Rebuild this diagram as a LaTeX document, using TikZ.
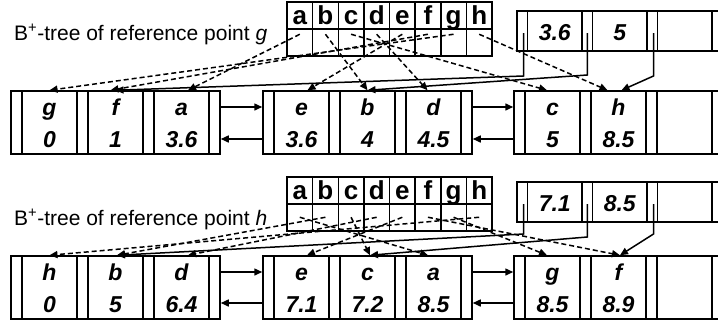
\documentclass[tikz,border=0pt]{standalone}
\usepackage{fontspec}
\setmainfont{Liberation Sans}
\usetikzlibrary{arrows.meta}
\tikzset{
  lw/.style={line width=1.5pt},
  keycell/.style={draw, lw, minimum width=55pt, minimum height=63pt, inner sep=0pt},
  leafnode/.style={draw, lw, minimum width=209pt, minimum height=63pt, inner sep=0pt},
  inode/.style={draw, lw, minimum width=205.5pt, minimum height=40pt, inner sep=0pt},
  icell/.style={draw, lw, minimum width=54.5pt, minimum height=40pt, inner sep=0pt},
  acell/.style={draw, lw, minimum width=25.625pt, minimum height=27pt, inner sep=0pt},
  hdrtext/.style={font=\fontsize{26}{26}\selectfont\bfseries, inner sep=0pt},
  leaftext/.style={font=\fontsize{23}{23}\selectfont\bfseries\itshape, inner sep=0pt},
  titletext/.style={font=\fontsize{21}{21}\selectfont, inner sep=0pt},
  ptr/.style={lw, -{Triangle[length=8pt,width=7pt]}},
  dptr/.style={ptr, dash pattern=on 5pt off 3pt},
}
% leaf: #1 name, #2 x, #3 y top, #4..#9 keys/values
\newcommand\leafrow[9]{%
  \node[leafnode] (#1) at (#2+104.5,#3+31.5) {};
  \node[keycell] (#1-1) at (#2+38.5,#3+31.5) {};
  \node[keycell] (#1-2) at (#2+104.5,#3+31.5) {};
  \node[keycell] (#1-3) at (#2+170.5,#3+31.5) {};
  \node[leaftext, anchor=base] (#1-1k) at (#2+38.5,#3+24) {#4};
  \node[leaftext, anchor=base] (#1-1v) at (#2+38.5,#3+56) {#5};
  \node[leaftext, anchor=base] (#1-2k) at (#2+104.5,#3+24) {#6};
  \node[leaftext, anchor=base] (#1-2v) at (#2+104.5,#3+56) {#7};
  \node[leaftext, anchor=base] (#1-3k) at (#2+170.5,#3+24) {#8};
  \node[leaftext, anchor=base] (#1-3v) at (#2+170.5,#3+56) {#9};
}
% internal node: #1 name, #2 x, #3 y top, #4 #5 keys
\newcommand\inodebox[5]{%
  \node[inode] (#1) at (#2+102.75,#3+20) {};
  \node[icell] (#1-c1) at (#2+37.75,#3+20) {};
  \node[icell] (#1-c2) at (#2+102.75,#3+20) {};
  \node[icell] (#1-c3) at (#2+167.75,#3+20) {};
  \node[leaftext, anchor=base] (#1-k1) at (#2+37.75,#3+29.5) {#4};
  \node[leaftext, anchor=base] (#1-k2) at (#2+102.75,#3+29.5) {#5};
  \coordinate (#1-p0) at (#2+6.5,#3+22);
  \coordinate (#1-p1) at (#2+70.25,#3+22);
  \coordinate (#1-p2) at (#2+136.5,#3+22);
}
% key array: #1 name, #2 y top
\newcommand\keyarray[2]{%
  \foreach \l [count=\i from 0] in {a,b,c,d,e,f,g,h}{%
    \node[acell] (#1h-\l) at (287+25.625*\i+12.8125,#2+13.5) {};
    \node[hdrtext, anchor=base] (#1t-\l) at (287+25.625*\i+12.8125,#2+22.5) {\l};
    \node[acell] (#1-\l) at (287+25.625*\i+12.8125,#2+40.5) {};
  }%
}
\begin{document}
\begin{tikzpicture}[x=1pt,y=-1pt]
\useasboundingbox (0,0) rectangle (718,327);
\clip (0,0) rectangle (718,327);

% ---------- top tree ----------
\node[titletext, anchor=base west] (ttitle) at (14,40.5) {B\textsuperscript{+}-tree of reference point \textit{g}};
\keyarray{ta}{2}
\inodebox{tn}{517}{11}{3.6}{5}
\leafrow{t1}{11}{91}{g}{0}{f}{1}{a}{3.6}
\leafrow{t2}{263}{91}{e}{3.6}{b}{4}{d}{4.5}
\leafrow{t3}{514}{91}{c}{5}{h}{8.5}{}{}

\draw[ptr] ([yshift=15.5pt]t1.east) -- ([yshift=15.5pt]t2.west);
\draw[ptr] ([yshift=-16.5pt]t2.west) -- ([yshift=-16.5pt]t1.east);
\draw[ptr] ([yshift=15.5pt]t2.east) -- ([yshift=15.5pt]t3.west);
\draw[ptr] ([yshift=-16.5pt]t3.west) -- ([yshift=-16.5pt]t2.east);

\draw[ptr] (tn-p0) -- ++(0,43) -- (t1-2.north);
\draw[ptr] (tn-p1) -- ++(0,42) -- (t2-2.north);
\draw[ptr] (tn-p2) -- ++(0,43) -- ([xshift=3pt]t3-2.north);

\draw[dptr] ([yshift=-6pt]ta-a.north) -- ([xshift=6.5pt]t1-3.north);
\draw[dptr] ([yshift=-6pt]ta-b.north) -- (t2-2.north);
\draw[dptr] ([yshift=-6pt]ta-c.north) -- ([xshift=-5.5pt]t3-1.north);
\draw[dptr] ([yshift=-6pt]ta-d.north) -- ([xshift=-6pt]t2-3.north);
\draw[dptr] ([yshift=-6pt]ta-e.north) -- ([xshift=6pt]t2-1.north);
\draw[dptr] ([yshift=-6pt]ta-f.north) -- ([xshift=-5pt]t1-2.north);
\draw[dptr] ([yshift=-6pt]ta-g.north) -- (t1-1.north);
\draw[dptr] ([yshift=-6pt]ta-h.north) -- ([xshift=-11pt]t3-2.north);

% ---------- bottom tree ----------
\node[titletext, anchor=base west] (btitle) at (14,225) {B\textsuperscript{+}-tree of reference point \textit{h}};
\keyarray{ba}{177}
\inodebox{bn}{517}{182}{7.1}{8.5}
\leafrow{b1}{11}{256}{h}{0}{b}{5}{d}{6.4}
\leafrow{b2}{263}{256}{e}{7.1}{c}{7.2}{a}{8.5}
\leafrow{b3}{514}{256}{g}{8.5}{f}{8.9}{}{}

\draw[ptr] ([yshift=15.5pt]b1.east) -- ([yshift=15.5pt]b2.west);
\draw[ptr] ([yshift=-15.5pt]b2.west) -- ([yshift=-15.5pt]b1.east);
\draw[ptr] ([yshift=15.5pt]b2.east) -- ([yshift=15.5pt]b3.west);
\draw[ptr] ([yshift=-15.5pt]b3.west) -- ([yshift=-15.5pt]b2.east);

\draw[ptr] (bn-p0) -- ++(0,30) -- ([xshift=1.5pt]b1-2.north);
\draw[ptr] (bn-p1) -- ++(0,33) -- ([xshift=2.5pt]b2-2.north);
\draw[ptr] (bn-p2) -- ++(0,30) -- ([xshift=1.5pt]b3-2.north);

\draw[dptr] ([yshift=-14pt]ba-a.north) -- ([xshift=-5.5pt]b2-3.north);
\draw[dptr] ([yshift=-14pt]ba-b.north) -- ([xshift=1.5pt]b1-2.north);
\draw[dptr] ([yshift=-14pt]ba-c.north) -- ([xshift=2.5pt]b2-2.north);
\draw[dptr] ([yshift=-14pt]ba-d.north) -- ([xshift=6.5pt]b1-3.north);
\draw[dptr] ([yshift=-14pt]ba-e.north) -- ([xshift=5.5pt]b2-1.north);
\draw[dptr] ([yshift=-14pt]ba-f.north) -- ([xshift=1.5pt]b3-2.north);
\draw[dptr] ([yshift=-14pt]ba-g.north) -- ([xshift=-5.5pt]b3-1.north);
\draw[dptr] ([yshift=-14pt]ba-h.north) -- (b1-1.north);
\end{tikzpicture}
\end{document}
